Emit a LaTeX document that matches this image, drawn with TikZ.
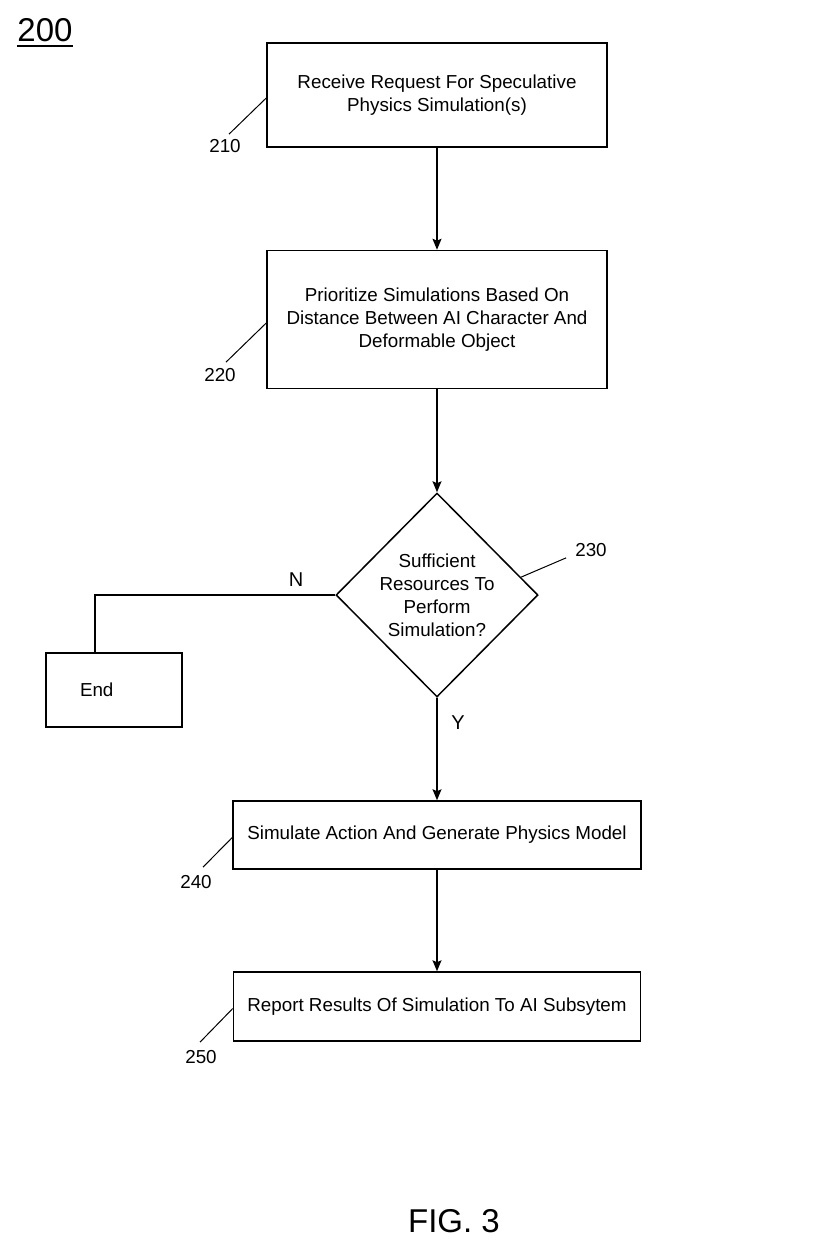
\documentclass[tikz,border=0pt]{standalone}
\usepackage{fontspec}
\setmainfont{Liberation Sans}
\usepackage{tikz}
\usetikzlibrary{arrows,arrows.meta,shapes,positioning}

\begin{document}
\begin{tikzpicture}[x=1pt,y=-1pt,
    txt/.style={font=\fontsize{18.8}{23}\selectfont},
    box/.style={txt, draw, line width=1.5pt, align=center, inner sep=0pt},
    decision/.style={txt, draw, diamond, aspect=1, line width=1.5pt, align=center,
      inner sep=0pt, minimum width=202pt, minimum height=204pt},
    refnum/.style={txt, inner sep=2pt},
    lead/.style={line width=1pt},
    flow/.style={-{Stealth[length=11pt,width=9pt,inset=2pt]}, line width=1.5pt}]
  \useasboundingbox (0,0) rectangle (812,1243);
  \node[inner sep=0pt, font=\fontsize{33}{36}\selectfont] (fig) at (45,30) {200};
  \draw[line width=1.8pt] ([yshift=-4pt]fig.south west) -- ([yshift=-4pt]fig.south east);
  \node[box, minimum width=340pt, minimum height=104pt] (recv) at (437,95)
    {Receive Request For Speculative\\Physics Simulation(s)};
  \node[box, minimum width=340pt, minimum height=138pt] (prio) at (437,319.5)
    {Prioritize Simulations Based On\\Distance Between AI Character And\\Deformable Object};
  \node[decision] (check) at (437,595)
    {Sufficient\\Resources To\\Perform\\Simulation?};
  \node[box, minimum width=136pt, minimum height=74pt, text width=68pt, align=left,
    inner xsep=34pt] (stop) at (114,690) {End};
  \node[box, minimum width=408pt, minimum height=68pt] (sim) at (437,835)
    {Simulate Action And Generate Physics Model};
  \node[box, minimum width=407pt, minimum height=69pt] (report) at (437,1006.5)
    {Report Results Of Simulation To AI Subsytem};
  % reference numerals
  \node[refnum] (n210) at (225,146) {210};
  \node[refnum] (n220) at (220,375) {220};
  \node[refnum] (n230) at (591,550) {230};
  \node[refnum] (n240) at (196,882) {240};
  \node[refnum] (n250) at (201,1057) {250};
  \node[txt, font=\fontsize{20}{24}\selectfont] (no) at (296,580) {N};
  \node[txt, font=\fontsize{20}{24}\selectfont] (yes) at (458,723) {Y};
  \node[inner sep=0pt, font=\fontsize{33}{36}\selectfont] (caption) at (454,1221) {FIG. 3};
  % flow
  \draw[flow] (recv) -- (prio);
  \draw[flow] (prio) -- (check);
  \draw[line width=1.5pt] (check.west) -| ([xshift=-19pt]stop.north);
  \draw[flow] (check) -- (sim);
  \draw[flow] (sim) -- (report);
  % leaders
  \draw[lead] ([yshift=-3pt]recv.west) -- ([xshift=4pt,yshift=3pt]n210.north);
  \draw[lead] ([yshift=-3.5pt]prio.west) -- ([xshift=6pt,yshift=4pt]n220.north);
  \draw[lead] (check.12) -- ([xshift=-7pt,yshift=1pt]n230.south west);
  \draw[lead] ([yshift=-2.5pt]sim.west) -- ([xshift=7pt,yshift=6pt]n240.north);
  \draw[lead] ([yshift=-2pt]report.west) -- ([xshift=-1pt,yshift=6pt]n250.north);
\end{tikzpicture}
\end{document}
